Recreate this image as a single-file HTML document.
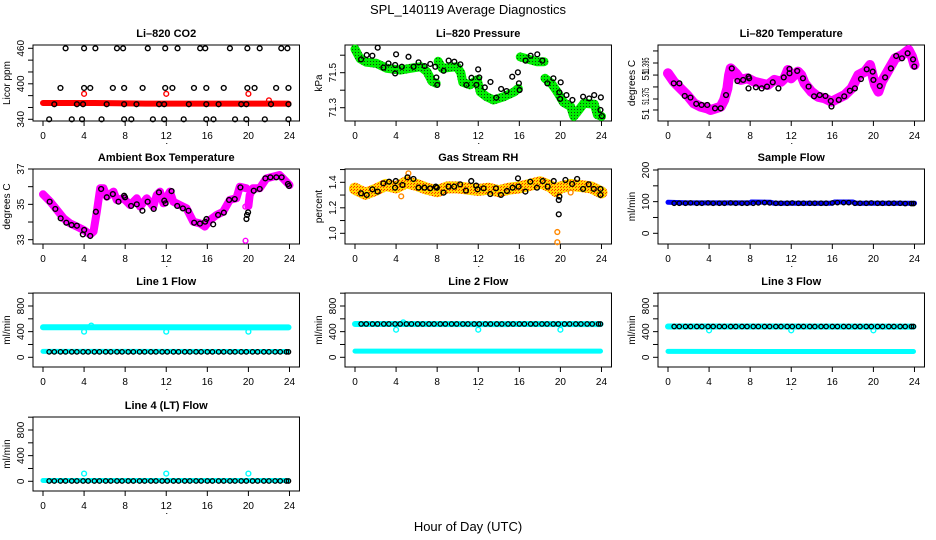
<!DOCTYPE html>
<html><head><meta charset="utf-8"><style>
html,body{margin:0;padding:0;background:#fff;}
svg{display:block;font-family:"Liberation Sans",Arial,sans-serif;}
</style></head><body>
<svg id="chart" width="936" height="540" viewBox="0 0 936 540" xmlns="http://www.w3.org/2000/svg">
<defs>
<pattern id="pGreen" width="3" height="3" patternUnits="userSpaceOnUse"><rect width="3" height="3" fill="#00ee00"/><rect x="1" y="1" width="1" height="1" fill="#114411"/></pattern>
<pattern id="pRH" width="3" height="3" patternUnits="userSpaceOnUse"><rect width="3" height="3" fill="#ffd800"/><rect width="1" height="1" fill="#ff2000"/><rect x="2" y="1" width="1" height="1" fill="#ff4000"/></pattern>
</defs>
<text x="468" y="14" text-anchor="middle" font-size="13">SPL_140119  Average Diagnostics</text>
<text x="468" y="531" text-anchor="middle" font-size="13">Hour of Day (UTC)</text>
</svg>
<script>
// ---------- data ----------
const xTicks = [0,4,8,12,16,20,24];

// CO2
const co2BandH = [0,5,10,15,20,23.9];
const co2BandV = [367.5,367.5,366.5,366.5,366.5,366.5];
const co2RedH = [4,12,20,22];
const co2RedV = [383,383,383,372];
const co2BlkH = [2.2,4.0,5.1,7.2,7.8,10.2,11.9,13.1,15.3,15.8,18.2,19.9,21.1,23.2,23.8,
 1.7,4.0,4.6,6.8,7.9,9.7,11.9,12.6,14.7,15.9,17.6,19.9,20.6,22.7,23.9,
 1.1,3.3,3.9,6.2,7.9,9.1,11.3,11.8,14.2,15.9,17.1,19.3,19.8,22.2,23.9,
 0.6,2.8,3.8,5.7,7.9,8.6,10.7,11.8,13.7,15.9,16.6,18.7,19.8,21.6,23.9];
const co2BlkV = [460,460,460,460,460,460,460,460,460,460,460,460,460,460,460,
 393,393,393,393,393,393,393,393,393,393,393,393,393,393,393,
 365.5,365.5,365.5,365.5,365.5,365.5,365.5,365.5,365.5,365.5,365.5,365.5,365.5,365.5,365.5,
 340,340,340,340,340,340,340,340,340,340,340,340,340,340,340];

// Pressure
const presBandH = [0,0.5,1.1,2.1,3.1,4.4,5.4,6.4,7.0,7.5,7.9,null,8.1,8.5,9.9,10.3,10.5,11.2,11.9,12.2,12.8,13.5,14.5,15.5,15.9,null,16.1,16.7,17.7,18.4,null,18.5,19.1,19.7,20.3,21.0,21.3,21.7,22.3,23.3,23.6,24.0];
const presBandV = [71.635,71.58,71.56,71.553,71.525,71.515,71.525,71.534,71.506,71.45,71.44,null,71.565,71.525,71.534,71.50,71.445,71.43,71.46,71.39,71.363,71.344,71.363,71.39,71.41,null,71.59,71.58,71.563,71.563,null,71.468,71.44,71.39,71.33,71.306,71.25,71.28,71.325,71.32,71.26,71.25];
const presBlkH = [0.59,1.14,1.69,2.21,2.77,3.26,3.91,4.0,3.91,4.56,5.21,5.70,6.19,6.78,7.33,7.82,7.92,8.01,8.63,9.12,9.67,10.26,10.85,11.34,11.82,11.99,12.1,12.64,13.19,13.75,14.23,14.76,15.31,15.86,15.96,16.03,16.61,17.10,17.75,18.24,18.73,19.32,19.90,19.97,20.03,20.59,21.17,22.21,22.80,23.29,23.94,23.9,24.04];
const presBlkV = [71.576,71.601,71.597,71.643,71.529,71.553,71.544,71.605,71.496,71.534,71.591,71.534,71.559,71.538,71.55,71.534,71.473,71.43,71.511,71.569,71.563,71.548,71.43,71.471,71.43,71.519,71.473,71.416,71.447,71.357,71.407,71.395,71.477,71.502,71.439,71.401,71.569,71.597,71.605,71.569,71.439,71.468,71.388,71.35,71.445,71.372,71.344,71.363,71.353,71.372,71.359,71.287,71.252];

// Li-820 temperature
const ltBandH = [0.0,0.56,1.21,1.86,2.52,3.17,3.82,4.15,4.64,5.13,5.46,5.78,5.95,6.11,6.60,7.09,7.75,8.40,9.05,9.71,10.36,11.01,11.34,11.67,11.99,12.65,12.97,13.30,13.95,14.61,15.26,15.92,16.57,17.22,17.88,18.53,19.18,19.67,20.16,20.49,20.82,21.47,22.12,22.78,23.43,23.76,24.0];
const ltBandV = [51.3893,51.3846,51.3809,51.3772,51.3726,51.3707,51.3698,51.3689,51.3698,51.3707,51.3744,51.3809,51.3883,51.3920,51.3893,51.3856,51.3865,51.3846,51.3837,51.3828,51.3856,51.3846,51.3865,51.3911,51.3865,51.3902,51.3883,51.3837,51.3791,51.3763,51.3754,51.3735,51.3754,51.3772,51.3809,51.3883,51.3902,51.3939,51.3828,51.3791,51.3846,51.3911,51.3976,51.3994,51.4022,51.3985,51.3939];
const ltBlkH = [0.56,1.11,1.63,2.19,2.75,3.27,3.82,4.58,5.13,5.65,6.21,6.76,7.32,7.84,7.91,7.84,8.56,9.12,9.64,10.20,10.75,11.27,11.83,11.83,12.58,13.14,13.69,14.22,14.77,15.33,15.85,15.92,16.63,17.16,17.71,18.20,18.79,19.35,19.93,20.00,20.62,21.14,21.70,22.22,22.78,23.33,23.86,23.99];
const ltBlkV = [51.3837,51.3837,51.3767,51.3758,51.3723,51.3717,51.3717,51.3698,51.3698,51.3772,51.3920,51.3850,51.3856,51.3874,51.3865,51.3809,51.3815,51.3809,51.3819,51.3843,51.3809,51.3870,51.3917,51.3893,51.3906,51.3865,51.3819,51.3765,51.3772,51.3767,51.3739,51.3708,51.3745,51.3765,51.3796,51.3809,51.3861,51.3915,51.3902,51.3856,51.3822,51.3870,51.3920,51.3989,51.3976,51.4004,51.3970,51.3930];

// Ambient box temperature
const abBandH = [0.0,0.71,1.36,2.01,2.65,3.30,3.95,4.60,4.92,5.24,5.57,5.89,6.21,6.86,7.18,7.83,8.48,9.13,9.45,10.10,10.74,11.07,11.39,11.72,12.36,12.69,13.33,13.98,14.63,15.28,15.76,16.25,16.89,17.54,18.19,18.83,19.16,19.81,null,20.0,20.13,20.45,21.10,21.75,23.04,24.0];
const abBandV = [35.57,35.15,34.68,34.21,33.92,33.74,33.55,33.30,33.45,34.58,35.91,35.91,35.43,35.72,35.25,35.34,34.96,35.34,34.87,35.34,34.87,35.53,35.72,35.06,35.72,35.15,34.96,34.77,34.02,33.92,33.74,34.11,34.40,34.58,35.25,35.34,36.00,35.91,null,34.9,35.53,35.91,35.91,36.47,36.66,36.09];
const abOutH = [19.72,19.7];
const abOutV = [32.94,34.87];
const abBlkH = [0.65,1.20,1.72,2.27,2.78,3.30,3.88,4.01,4.60,5.15,5.66,6.21,6.80,7.35,7.90,7.99,8.58,9.13,9.68,10.19,10.78,11.29,11.81,11.94,12.52,13.07,13.62,14.17,14.72,15.28,15.79,15.92,16.57,17.05,17.61,18.12,18.67,19.22,19.81,19.87,19.97,20.52,21.10,21.65,22.14,22.72,23.24,23.85,23.95];
const abBlkV = [35.15,34.74,34.21,33.96,33.83,33.79,33.30,33.55,33.21,34.58,35.87,35.40,35.58,35.15,35.49,35.40,34.91,35.00,34.64,35.15,34.74,35.68,35.21,35.06,35.75,34.91,34.77,34.64,33.96,33.91,34.02,34.17,33.87,34.40,34.53,35.25,35.30,35.96,34.17,34.40,34.55,35.77,35.87,36.47,36.53,36.53,36.53,36.15,36.04];

// Gas stream RH
const rhBandH = [0,1,2,3,4,5,6,7,8,9,10,11,12,13,14,15,16,17,18,19,19.6,20,21,22,23,24];
const rhBandV = [1.35,1.31,1.34,1.38,1.36,1.40,1.38,1.35,1.33,1.36,1.36,1.35,1.34,1.35,1.33,1.35,1.36,1.38,1.40,1.37,1.33,1.36,1.38,1.37,1.36,1.32];
const rhOutH = [19.7,19.7,4.5,21.0,5.2];
const rhOutV = [1.01,0.93,1.29,1.32,1.47];
const rhBlkH = [0.59,1.14,1.69,2.21,2.76,3.32,3.97,3.90,4.62,5.11,5.69,6.18,6.76,7.32,7.87,7.97,8.62,9.11,9.66,10.24,10.80,11.32,11.80,11.93,12.52,13.17,13.72,14.21,14.80,15.35,15.87,15.93,16.59,17.07,17.72,18.28,18.76,19.35,19.84,19.90,19.84,20.49,21.14,21.63,22.21,22.76,23.25,23.90,23.90];
const rhBlkV = [1.314,1.301,1.345,1.327,1.392,1.405,1.410,1.358,1.379,1.439,1.426,1.358,1.358,1.353,1.366,1.358,1.319,1.366,1.366,1.384,1.335,1.410,1.374,1.345,1.353,1.308,1.353,1.301,1.332,1.358,1.431,1.366,1.327,1.405,1.358,1.410,1.366,1.410,1.261,1.288,1.149,1.418,1.387,1.426,1.348,1.384,1.348,1.348,1.301];

// shared sampling times for flow panels
const flowT = [0.6,1.1,1.7,2.2,2.8,3.3,3.9,4.4,5.0,5.5,6.1,6.6,7.2,7.7,8.3,8.8,9.4,9.9,10.5,11.0,11.6,12.1,12.7,13.2,13.8,14.3,14.9,15.4,16.0,16.5,17.1,17.6,18.2,18.7,19.3,19.8,20.4,20.9,21.5,22.0,22.6,23.1,23.7,23.9];

// Sample flow
const sfBandH = [0,2,4,8,8.1,10,10.3,12,16,16.2,18,18.3,24];
const sfBandV = [98,96,96,96,99,98,95,95,95,99,99,95,95];
const sfBlk = [95,95,95,96,95,95,96,95,95,95,96,95,95,95,95,96,97,96,95,95,95,96,95,95,95,95,95,95,96,97,97,97,95,95,95,96,95,95,95,95,95,94,94,94];

// Line 1 flow
const l1HiH = [0,4.5,23.9];
const l1HiV = [468,470,466];
const l1LoH = [0,23.9];
const l1LoV = [92,90];
const l1OutH = [4,12,20,4.7];
const l1OutV = [400,400,400,495];
const l1Blk = [85,85,85,85,85,85,85,85,85,85,85,85,85,85,85,85,85,85,85,85,85,85,85,85,85,85,85,85,85,85,85,85,85,85,85,85,85,85,85,85,85,85,85,85];

// Line 2 flow
const l2HiH = [0,23.9];
const l2HiV = [520,518];
const l2LoH = [0,23.9];
const l2LoV = [97,97];
const l2OutH = [4,12,20,4.7];
const l2OutV = [430,430,430,545];
const l2Blk = [520,520,520,520,520,520,520,520,520,520,520,520,520,520,520,520,520,520,520,520,520,520,520,520,520,520,520,520,520,520,520,520,520,520,520,520,520,520,520,520,520,520,520,520];

// Line 3 flow
const l3HiH = [0,23.9];
const l3HiV = [480,478];
const l3LoH = [0,23.9];
const l3LoV = [92,90];
const l3OutH = [4,12,20];
const l3OutV = [420,420,420];
const l3Blk = [480,480,480,480,480,480,480,480,480,480,480,480,480,480,480,480,480,480,480,480,480,480,480,480,480,480,480,480,480,480,480,480,480,480,480,480,480,480,480,480,480,480,480,480];

// Line 4 flow
const l4LoH = [0,23.9];
const l4LoV = [12,12];
const l4OutH = [4,12,20];
const l4OutV = [120,120,120];
const l4Blk = [5,5,5,5,5,5,5,5,5,5,5,5,5,5,5,5,5,5,5,5,5,5,5,5,5,5,5,5,5,5,5,5,5,5,5,5,5,5,5,5,5,5,5,5];

// ---------- drawing ----------
const NS = 'http://www.w3.org/2000/svg';
const svg = document.getElementById('chart');
const colX0 = [43,355,668];
const PXH = 10.27;
const rowTop = [45,169,293,417];
const rowBot = [121,244,367,491];

function mk(tag, attrs, parent){
  const e = document.createElementNS(NS, tag);
  for (const k in attrs) e.setAttribute(k, attrs[k]);
  (parent||svg).appendChild(e);
  return e;
}
function lin(v1,y1,v2,y2){ return v => y1 + (v - v1) * (y2 - y1) / (v2 - v1); }

function makePanel(key, col, row, title, ytitle, yScale, ticks, labels, labelLen){
  const g = mk('g', {});
  
  
  const x0 = colX0[col];
  const xs = h => x0 + h * PXH;
  const L = x0 - 10, R = x0 + 24 * PXH + 10, T = rowTop[row], B = rowBot[row];
  const box = mk('rect', {x:L, y:T, width:R-L, height:B-T, fill:'none', stroke:'#000', 'stroke-width':1}, g);
  
  
  const t = mk('text', {x:(L+R)/2, y:T-8, 'text-anchor':'middle', 'font-size':11, 'font-weight':'bold'}, g);
  t.textContent = title;
  
  
  const yt = mk('text', {x:0, y:0, 'text-anchor':'middle', 'font-size':10, transform:`translate(${L-23},${(T+B)/2}) rotate(-90)`}, g);
  yt.textContent = ytitle;
  
  
  const xa = mk('g', {}, g);
  
  
  xTicks.forEach(v => {
    mk('line', {x1:xs(v), x2:xs(v), y1:B, y2:B+5, stroke:'#000'}, xa);
    const tl = mk('text', {x:xs(v), y:B+18, 'text-anchor':'middle', 'font-size':10}, xa);
    tl.textContent = v;
    
    
  });
  mk('rect', {x:(L+R)/2, y:B+22, width:1, height:1, fill:'#000'}, xa);
  const ya = mk('g', {}, g);
  
  
  ticks.forEach(v => mk('line', {x1:L-5, x2:L, y1:yScale(v), y2:yScale(v), stroke:'#000'}, ya));
  labels.forEach(([v, txt]) => {
    const attrs = {x:0, y:0, 'text-anchor':'middle', 'font-size':10, transform:`translate(${L-9},${yScale(v)}) rotate(-90)`};
    if (labelLen && txt.length > 3){ attrs.textLength = labelLen; attrs.lengthAdjust = 'spacingAndGlyphs'; }
    const tl = mk('text', attrs, ya);
    tl.textContent = txt;
    
    
  });
  const plot = mk('g', {}, g);
  
  
  return {xs, ys:yScale, g:plot};
}

function band(p, H, V, color, width, name){
  let d = '', pen = false;
  for (let i = 0; i < H.length; i++){
    if (H[i] === null || V[i] === null){ pen = false; continue; }
    d += (pen ? 'L' : 'M') + p.xs(H[i]).toFixed(1) + ' ' + p.ys(V[i]).toFixed(1);
    pen = true;
  }
  const e = mk('path', {d, fill:'none', stroke:color, 'stroke-width':width, 'stroke-linecap':'round', 'stroke-linejoin':'round'}, p.g);
  
  
}
function pts(p, H, V, color, name, r, sw){
  for (let i = 0; i < H.length; i++){
    const c = mk('circle', {cx:p.xs(H[i]), cy:p.ys(V[i]), r:r||2.4, fill:'none', stroke:color, 'stroke-width':sw||1.4}, p.g);
    
    
  }
}

let p = makePanel('co2', 0, 0, 'Li\u2013820 CO2', 'Licor ppm', lin(340,119.3,460,48.3),
  [340,360,380,400,420,440,460], [[340,'340'],[400,'400'],[460,'460']]);
band(p, co2BandH, co2BandV, '#ff0000', 6, 'co2-red-band');
pts(p, co2RedH, co2RedV, '#ff0000', 'co2-red-point');
pts(p, co2BlkH, co2BlkV, '#000', 'co2-avg-point');

p = makePanel('pressure', 1, 0, 'Li\u2013820 Pressure', 'kPa', lin(71.3,107.7,71.5,72.7),
  [71.3,71.4,71.5,71.6], [[71.3,'71.3'],[71.5,'71.5']]);
band(p, presBandH, presBandV, 'url(#pGreen)', 9, 'pressure-green-band');
pts(p, presBlkH, presBlkV, '#000', 'pressure-avg-point');

p = makePanel('licor-temp', 2, 0, 'Li\u2013820 Temperature', 'degrees C', lin(51.375,99,51.395,63),
  [51.4017,51.395,51.3883,51.3817,51.375,51.3689],
  [[51.3933,'51.395'],[51.3883,'51'],[51.3765,'51.375'],[51.3665,'51']], 17);
band(p, ltBandH, ltBandV, '#ff00ff', 10, 'licor-temp-magenta-band');
pts(p, ltBlkH, ltBlkV, '#000', 'licor-temp-avg-point');

p = makePanel('ambient', 0, 1, 'Ambient Box Temperature', 'degrees C', lin(33,239.7,37,169),
  [33,34,35,36,37], [[33,'33'],[35,'35'],[37,'37']]);
band(p, abBandH, abBandV, '#ff00ff', 8, 'ambient-magenta-band');
pts(p, abOutH, abOutV, '#ff00ff', 'ambient-outlier');
pts(p, abBlkH, abBlkV, '#000', 'ambient-avg-point');

p = makePanel('rh', 1, 1, 'Gas Stream RH', 'percent', lin(1.0,233.3,1.4,182.3),
  [1.0,1.1,1.2,1.3,1.4,1.5], [[1.0,'1.0'],[1.2,'1.2'],[1.4,'1.4']]);
band(p, rhBandH, rhBandV, 'url(#pRH)', 12, 'rh-band');
pts(p, rhOutH, rhOutV, '#ff8800', 'rh-outlier');
pts(p, rhBlkH, rhBlkV, '#000', 'rh-avg-point');

p = makePanel('sample-flow', 2, 1, 'Sample Flow', 'ml/min', lin(0,233.3,200,170),
  [0,50,100,150,200], [[0,'0'],[100,'100'],[200,'200']]);
band(p, sfBandH, sfBandV, '#0000ff', 5, 'sample-flow-blue-band');
pts(p, flowT, sfBlk, '#000', 'sample-flow-avg-point', 2.2, 1.3);

function flowPanel(key, col, row, title, hiH, hiV, loH, loV, outH, outV, blk){
  const base = row === 2 ? 357.3 : 481.3;
  const q = makePanel(key, col, row, title, 'ml/min', lin(0,base,800,base-51.3),
    [0,200,400,600,800,1000], [[0,'0'],[400,'400'],[800,'800']]);
  if (hiH) band(q, hiH, hiV, '#00ffff', 6, key + '-cyan-high-band');
  band(q, loH, loV, '#00ffff', 5, key + '-cyan-low-band');
  pts(q, outH, outV, '#00ffff', key + '-cyan-outlier');
  pts(q, flowT, blk, '#000', key + '-avg-point', 2.2, 1.3);
}
flowPanel('line1-flow', 0, 2, 'Line 1 Flow', l1HiH, l1HiV, l1LoH, l1LoV, l1OutH, l1OutV, l1Blk);
flowPanel('line2-flow', 1, 2, 'Line 2 Flow', l2HiH, l2HiV, l2LoH, l2LoV, l2OutH, l2OutV, l2Blk);
flowPanel('line3-flow', 2, 2, 'Line 3 Flow', l3HiH, l3HiV, l3LoH, l3LoV, l3OutH, l3OutV, l3Blk);
flowPanel('line4-flow', 0, 3, 'Line 4 (LT) Flow', null, null, l4LoH, l4LoV, l4OutH, l4OutV, l4Blk);
</script>
</body></html>
